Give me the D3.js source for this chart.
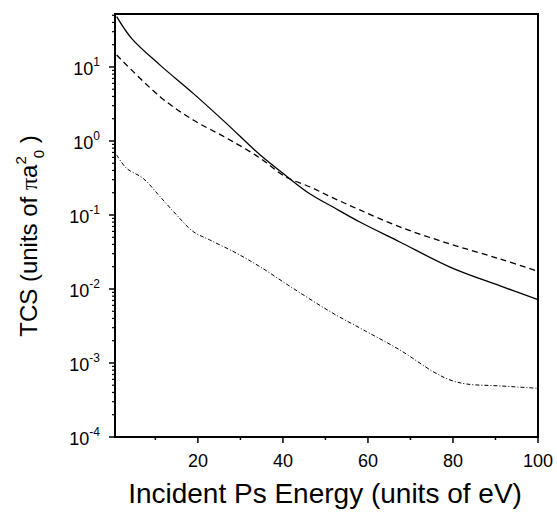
<!DOCTYPE html>
<html>
<head>
<meta charset="utf-8">
<script src="https://cdn.jsdelivr.net/npm/d3@7"></script>
<style>
	html, body { margin: 0; padding: 0; background: #fff; }
	svg { display: block; font-family: 'Liberation Sans', Arial, sans-serif; }
</style>
</head>
<body>
<div id="chart"></div>
<script>
// Energies (eV) and total cross sections (units of pi a0^2)
const solidE = [0.9, 4.4, 11.1, 18.9, 26.7, 34.6, 40.5, 46.4, 51.8, 58.1, 67.5, 79.3, 91.1, 100];
const solidV = [48, 24.4, 10.6, 4.4, 1.73, 0.65, 0.347, 0.192, 0.128, 0.0804, 0.0432, 0.0198, 0.011, 0.0072];

const dashE = [0.9, 11.1, 18.9, 26.7, 34.6, 40.5, 46.4, 51.8, 58.1, 67.5, 79.3, 91.1, 100];
const dashV = [14.5, 3.97, 1.92, 1.1, 0.589, 0.331, 0.239, 0.17, 0.117, 0.0689, 0.0406, 0.0254, 0.0173];

const dotE = [0.9, 3.2, 7.1, 11.1, 15, 18.9, 22.8, 29.1, 34.6, 42.4, 51.5, 59.7, 67.5, 75.4, 79.3, 83.2, 91.1, 100];
const dotV = [0.647, 0.428, 0.313, 0.177, 0.1, 0.0596, 0.046, 0.0304, 0.02, 0.0102, 0.0048, 0.00265, 0.0015, 0.00076, 0.00059, 0.00052, 0.00049, 0.000455];

const xTicks = [20, 40, 60, 80, 100];
const xMinor = [10, 30, 50, 70, 90];
const yExponents = [-4, -3, -2, -1, 0, 1];

const width = 557;
const height = 515;
const margin = { top: 14, right: 19, bottom: 78, left: 115 };

const svg = d3.select('#chart')
	.append('svg')
	.attr('width', width)
	.attr('height', height);

const x = d3.scaleLinear().domain([0.5, 100]).range([margin.left, width - margin.right]);
const y = d3.scaleLog().domain([1e-4, 52]).range([height - margin.bottom, margin.top]);

const line = d3.line()
	.x((d) => x(d[0]))
	.y((d) => y(d[1]))
	.curve(d3.curveCatmullRom.alpha(0.5));

// curves
svg.append('path')
	.datum(d3.zip(solidE, solidV))
	.attr('d', line)
	.attr('fill', 'none')
	.attr('stroke', '#000')
	.attr('stroke-width', 1.3);

svg.append('path')
	.datum(d3.zip(dashE, dashV))
	.attr('d', line)
	.attr('fill', 'none')
	.attr('stroke', '#000')
	.attr('stroke-width', 1.3)
	.attr('stroke-dasharray', '6,4');

svg.append('path')
	.datum(d3.zip(dotE, dotV))
	.attr('d', line)
	.attr('fill', 'none')
	.attr('stroke', '#000')
	.attr('stroke-width', 1)
	.attr('stroke-dasharray', '4,2,1,2');

// frame
const x0 = x.range()[0], x1 = x.range()[1];
const y0 = y.range()[0], y1 = y.range()[1];
svg.append('rect')
	.attr('x', x0)
	.attr('y', y1)
	.attr('width', x1 - x0)
	.attr('height', y0 - y1)
	.attr('fill', 'none')
	.attr('stroke', '#000')
	.attr('stroke-width', 2);

// x axis ticks and labels
const xAxis = svg.append('g');
xAxis.selectAll('line.major')
	.data(xTicks)
	.enter()
	.append('line')
	.attr('x1', (d) => x(d))
	.attr('x2', (d) => x(d))
	.attr('y1', y0)
	.attr('y2', y0 + 6)
	.attr('stroke', '#000')
	.attr('stroke-width', 1.5);
xAxis.selectAll('line.minor')
	.data(xMinor)
	.enter()
	.append('line')
	.attr('x1', (d) => x(d))
	.attr('x2', (d) => x(d))
	.attr('y1', y0)
	.attr('y2', y0 + 3)
	.attr('stroke', '#000')
	.attr('stroke-width', 1.5);
xAxis.selectAll('text')
	.data(xTicks)
	.enter()
	.append('text')
	.attr('x', (d) => x(d))
	.attr('y', y0 + 30)
	.attr('text-anchor', 'middle')
	.style('font-size', '18px')
	.text((d) => d);

// y axis ticks (log, with minor ticks 2..9)
const yAxis = svg.append('g');
const minorVals = [];
yExponents.forEach((e) => {
	for (let k = 2; k <= 9; k++) {
		const v = k * Math.pow(10, e);
		if (v <= y.domain()[1]) minorVals.push(v);
	}
});
yAxis.selectAll('line.minor')
	.data(minorVals)
	.enter()
	.append('line')
	.attr('x1', x0 - 3)
	.attr('x2', x0)
	.attr('y1', (d) => y(d))
	.attr('y2', (d) => y(d))
	.attr('stroke', '#000')
	.attr('stroke-width', 1.2);
yAxis.selectAll('line.major')
	.data(yExponents)
	.enter()
	.append('line')
	.attr('x1', x0 - 6)
	.attr('x2', x0)
	.attr('y1', (d) => y(Math.pow(10, d)))
	.attr('y2', (d) => y(Math.pow(10, d)))
	.attr('stroke', '#000')
	.attr('stroke-width', 1.5);

const yLab = yAxis.selectAll('text')
	.data(yExponents)
	.enter()
	.append('text')
	.attr('x', x0 - 15)
	.attr('y', (d) => y(Math.pow(10, d)) + 8)
	.attr('text-anchor', 'end')
	.style('font-size', '18px');
yLab.append('tspan').text('10');
yLab.append('tspan')
	.attr('dy', -9)
	.style('font-size', '12px')
	.text((d) => d);

// axis titles
svg.append('text')
	.attr('x', 325)
	.attr('y', 503)
	.attr('text-anchor', 'middle')
	.style('font-size', '28px')
	.text('Incident Ps Energy (units of eV)');

const yTitle = svg.append('text')
	.attr('transform', 'translate(37,236) rotate(-90)')
	.attr('text-anchor', 'middle')
	.style('font-size', '24px');
yTitle.append('tspan').text('TCS (units of ');
yTitle.append('tspan').style('font-family', "'Liberation Serif', serif").text('π');
yTitle.append('tspan').text('a');
yTitle.append('tspan').attr('dy', -11).style('font-size', '15px').text('2');
yTitle.append('tspan').attr('dx', -2).attr('dy', 18).style('font-size', '15px').text('0');
yTitle.append('tspan').attr('dy', -7).text(' )');
</script>
</body>
</html>
